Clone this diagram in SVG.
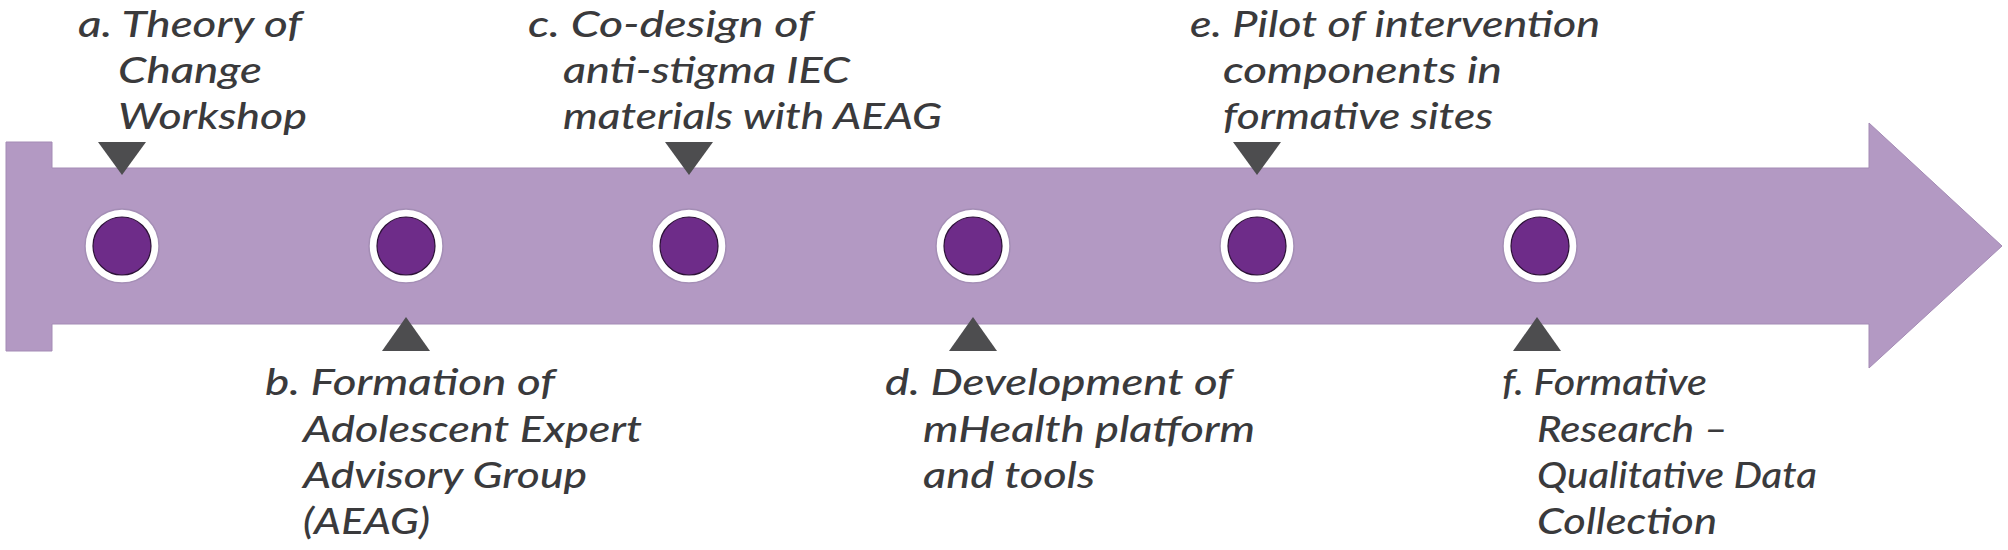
<svg xmlns="http://www.w3.org/2000/svg" width="2008" height="550" viewBox="0 0 2008 550">
<style>
.lbl{font-family:Lato,"Open Sans","Liberation Sans",sans-serif;font-style:italic;font-weight:500;font-size:37px;fill:#3a3a3c}
.ring{fill:#ffffff;stroke:#a48eb5;stroke-width:1.5}
.dot{fill:#6e2c89;stroke:#2d1238;stroke-width:1.2}
.tri{fill:#4d4d4f}
</style>
<rect width="2008" height="550" fill="#ffffff"/>
<g id="connectors">
<path id="timeline" d="M6,142 L52,142 L52,168 L1869,168 L1869,123 L2002,246 L1869,368 L1869,324 L52,324 L52,351 L6,351 Z" fill="#b399c3" stroke="#a48bb5" stroke-width="1"/>
</g>
<g id="node-a">
<circle class="ring" cx="122" cy="246" r="37"/><circle class="dot" cx="122" cy="246" r="29"/>
<polygon class="tri" points="98,142 146,142 122,175"/>
<text class="lbl" x="78" y="37" textLength="224" lengthAdjust="spacingAndGlyphs">a. Theory of</text>
<text class="lbl" x="118" y="83" textLength="144" lengthAdjust="spacingAndGlyphs">Change</text>
<text class="lbl" x="118" y="129" textLength="189" lengthAdjust="spacingAndGlyphs">Workshop</text>
</g>
<g id="node-b">
<circle class="ring" cx="406" cy="246" r="37"/><circle class="dot" cx="406" cy="246" r="29"/>
<polygon class="tri" points="382,351 430,351 406,317"/>
<text class="lbl" x="265" y="395" textLength="290" lengthAdjust="spacingAndGlyphs">b. Formation of</text>
<text class="lbl" x="303" y="442" textLength="339" lengthAdjust="spacingAndGlyphs">Adolescent Expert</text>
<text class="lbl" x="303" y="488" textLength="284" lengthAdjust="spacingAndGlyphs">Advisory Group</text>
<text class="lbl" x="303" y="534" textLength="127" lengthAdjust="spacingAndGlyphs">(AEAG)</text>
</g>
<g id="node-c">
<circle class="ring" cx="689" cy="246" r="37"/><circle class="dot" cx="689" cy="246" r="29"/>
<polygon class="tri" points="665,142 713,142 689,175"/>
<text class="lbl" x="528" y="37" textLength="285" lengthAdjust="spacingAndGlyphs">c. Co-design of</text>
<text class="lbl" x="563" y="83" textLength="287" lengthAdjust="spacingAndGlyphs">anti-stigma IEC</text>
<text class="lbl" x="563" y="129" textLength="379" lengthAdjust="spacingAndGlyphs">materials with AEAG</text>
</g>
<g id="node-d">
<circle class="ring" cx="973" cy="246" r="37"/><circle class="dot" cx="973" cy="246" r="29"/>
<polygon class="tri" points="949,351 997,351 973,317"/>
<text class="lbl" x="885" y="395" textLength="347" lengthAdjust="spacingAndGlyphs">d. Development of</text>
<text class="lbl" x="923" y="442" textLength="332" lengthAdjust="spacingAndGlyphs">mHealth platform</text>
<text class="lbl" x="923" y="488" textLength="172" lengthAdjust="spacingAndGlyphs">and tools</text>
</g>
<g id="node-e">
<circle class="ring" cx="1257" cy="246" r="37"/><circle class="dot" cx="1257" cy="246" r="29"/>
<polygon class="tri" points="1233,142 1281,142 1257,175"/>
<text class="lbl" x="1190" y="37" textLength="410" lengthAdjust="spacingAndGlyphs">e. Pilot of intervention</text>
<text class="lbl" x="1223" y="83" textLength="279" lengthAdjust="spacingAndGlyphs">components in</text>
<text class="lbl" x="1223" y="129" textLength="270" lengthAdjust="spacingAndGlyphs">formative sites</text>
</g>
<g id="node-f">
<circle class="ring" cx="1540" cy="246" r="37"/><circle class="dot" cx="1540" cy="246" r="29"/>
<polygon class="tri" points="1513,351 1561,351 1537,317"/>
<text class="lbl" x="1502" y="395" textLength="205" lengthAdjust="spacingAndGlyphs">f. Formative</text>
<text class="lbl" x="1537" y="442" textLength="191" lengthAdjust="spacingAndGlyphs">Research –</text>
<text class="lbl" x="1537" y="488" textLength="280" lengthAdjust="spacingAndGlyphs">Qualitative Data</text>
<text class="lbl" x="1537" y="534" textLength="180" lengthAdjust="spacingAndGlyphs">Collection</text>
</g>
</svg>
